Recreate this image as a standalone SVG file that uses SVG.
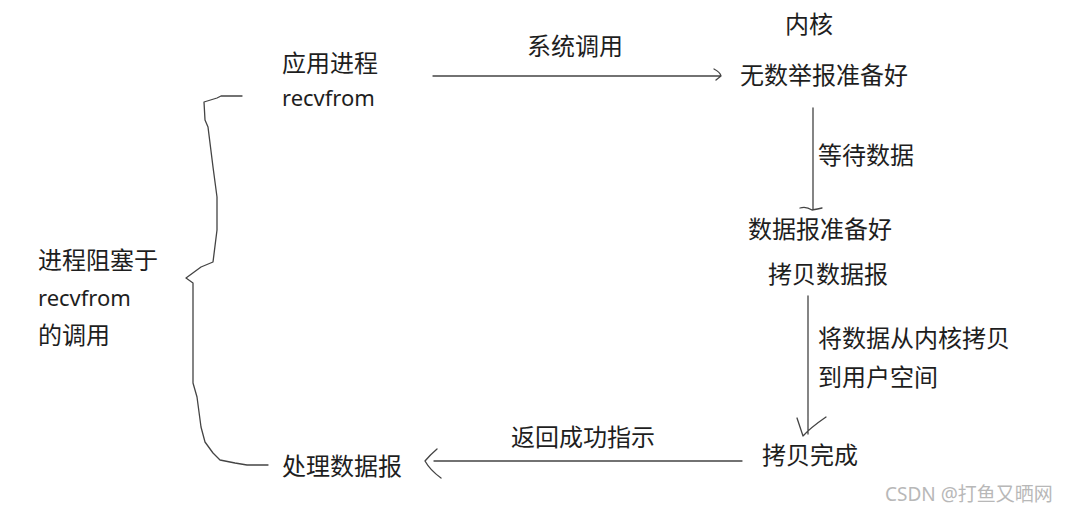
<svg xmlns="http://www.w3.org/2000/svg" width="1067" height="511" viewBox="0 0 1067 511">
<style>
.t{font-family:"Noto Sans","Noto Sans CJK SC",sans-serif;font-size:24px;fill:#1e1e1e}
.l{font-size:22px}
.c{stroke:#444;stroke-width:1.3;fill:none;stroke-linejoin:round;stroke-linecap:round}
.w{font-family:"Noto Sans","Noto Sans CJK SC",sans-serif;font-size:19px;fill:#b8b8b8}
</style>
<rect width="1067" height="511" fill="#fff"/>
<g id="app"><text class="t" x="282" y="72">应用进程</text><text class="t l" x="282" y="106">recvfrom</text></g>
<g id="kernel"><text class="t" x="785" y="33">内核</text><text class="t" x="740" y="84">无数举报准备好</text></g>
<g id="ready"><text class="t" x="748" y="238">数据报准备好</text><text class="t" x="768" y="283">拷贝数据报</text></g>
<g id="done"><text class="t" x="762" y="464">拷贝完成</text></g>
<g id="process"><text class="t" x="282" y="475">处理数据报</text></g>
<g id="blocked"><text class="t" x="38" y="269">进程阻塞于</text><text class="t l" x="38" y="306">recvfrom</text><text class="t" x="38" y="344">的调用</text></g>
<g id="connectors">
<path class="c" d="M433 76 H721 M714 69 Q720 72 721 76 L716 80"/>
<text class="t" x="527" y="55">系统调用</text>
<path class="c" d="M813 108 V210 M800 208 Q806 206 812 210 Q818 209 822 208"/>
<text class="t" x="818" y="164">等待数据</text>
<path class="c" d="M808 296 V434 M797 418 L803 436 Q810 428 826 417"/>
<text class="t" x="818" y="347">将数据从内核拷贝</text>
<text class="t" x="818" y="386">到用户空间</text>
<path class="c" d="M742 461 H434 M437 449 Q430 455 425 461 Q430 470 441 478"/>
<text class="t" x="511" y="446">返回成功指示</text>
<path class="c" d="M242 96 L221 96 L217 98 L204 102 L205 120 L208 127 L213 167 L217 197 L217 230 L213 262 L201 267 L186 278 L193 283 L193 383 L197 397 L201 427 L205 442 L213 453 L220 460 L235 463 L247 465 L268 465"/>
</g>
<text class="w" x="885" y="501">CSDN @打鱼又晒网</text>
</svg>
